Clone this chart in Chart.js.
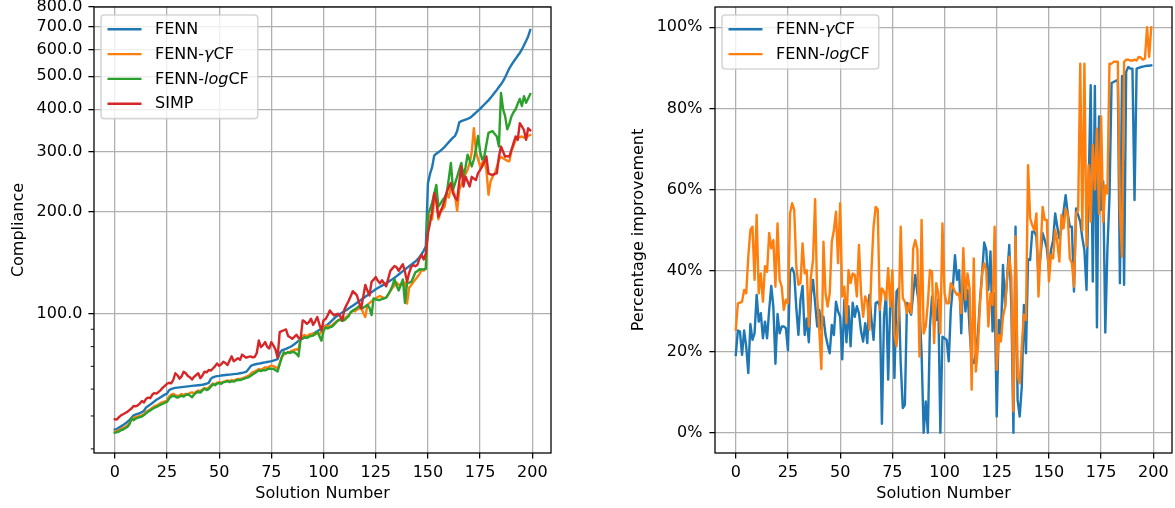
<!DOCTYPE html>
<html>
<head>
<meta charset="utf-8">
<script src="https://cdn.jsdelivr.net/npm/chart.js@4.4.1/dist/chart.umd.min.js"></script>
<style>
  html, body { margin: 0; padding: 0; background: #fff; }
  #page { position: relative; width: 1175px; height: 508px; overflow: hidden; }
  .box { position: absolute; top: 0; height: 508px; }
  #left { left: 0; width: 560px; }
  #right { left: 620px; width: 555px; }
</style>
</head>
<body>
<div id="page">
  <div class="box" id="left"><canvas id="compChart"></canvas></div>
  <div class="box" id="right"><canvas id="imprChart"></canvas></div>
</div>
<script>
// x: solution number 0..199
const solutionNumbers = Array.from({ length: 200 }, (_, i) => i);
const xTicks = [0, 25, 50, 75, 100, 125, 150, 175, 200];
const complianceTicks = [40, 50, 60, 70, 80, 90, 100, 200, 300, 400, 500, 600, 700, 800];
const percentTicks = [0, 20, 40, 60, 80, 100];

// left plot: compliance (log axis)
const fenn = [
  45.6, 45.8, 46.2, 46.6, 47.0, 47.5, 48.0, 48.6, 49.4, 50.2,
  50.5, 50.7, 51.0, 51.3, 51.8, 53.0, 53.5, 54.0, 54.6, 55.2,
  55.8, 56.3, 56.8, 57.3, 57.8, 58.2, 59.5, 60.0, 60.3, 60.5,
  60.6, 60.7, 60.8, 60.9, 61.0, 61.1, 61.2, 61.3, 61.4, 61.5,
  61.6, 61.7, 61.8, 62.0, 62.3, 62.6, 64.3, 65.0, 65.3, 65.5,
  65.6, 65.8, 65.9, 66.0, 66.1, 66.2, 66.3, 66.4, 66.5, 66.6,
  66.8, 67.0, 67.2, 67.5, 68.6, 70.0, 70.6, 70.9, 71.1, 71.3,
  71.5, 71.7, 71.9, 72.1, 72.3, 72.5, 72.8, 73.1, 73.5, 76.5,
  78.0, 78.4, 78.8, 79.3, 79.8, 80.5, 81.3, 82.2, 83.2, 84.0,
  84.6, 85.2, 85.7, 86.2, 86.6, 87.2, 88.0, 88.8, 89.6, 90.4,
  91.2, 92.0, 93.0, 94.2, 95.5, 96.8, 98.0, 99.0, 100.0, 100.9,
  101.8, 102.6, 103.6, 104.6, 105.6, 106.6, 107.7, 108.8, 109.9, 111.0,
  112.2, 113.4, 114.6, 115.7, 116.8, 118.0, 119.0, 120.0, 121.0, 122.0,
  123.0, 124.1, 125.2, 126.3, 127.6, 129.0, 130.5, 132.0, 133.5, 135.0,
  136.5, 138.0, 139.5, 141.0, 142.5, 144.5, 147.0, 150.0, 153.5, 158.0,
  242, 258, 270, 292, 296, 299, 302, 306, 310, 315,
  320, 325, 330, 334, 345, 366, 369, 371, 373, 375,
  377, 381, 386, 391, 396, 401, 407, 413, 419, 425,
  432, 440, 448, 456, 465, 474, 484, 497, 512, 528,
  540, 552, 563, 575, 586, 600, 617, 635, 655, 684
];
const fennGammaCF = [
  44.9, 45.1, 45.4, 45.8, 46.0, 46.4, 46.9, 47.6, 48.6, 49.4,
  49.6, 49.8, 50.1, 50.2, 50.6, 51.4, 51.9, 52.3, 52.9, 53.4,
  53.7, 54.1, 54.6, 54.9, 55.2, 55.4, 57.0, 57.8, 58.1, 57.6,
  57.3, 57.5, 58.0, 57.6, 58.1, 57.7, 58.5, 58.7, 58.3, 59.0,
  59.4, 59.2, 59.8, 60.4, 60.1, 60.6, 61.5, 62.3, 62.0, 62.6,
  62.9, 62.7, 63.0, 63.3, 63.6, 63.3, 63.8, 63.5, 64.0, 64.3,
  64.3, 64.5, 64.9, 65.3, 65.6, 66.4, 67.3, 67.6, 68.1, 68.8,
  68.4, 68.9, 69.6, 69.3, 69.9, 70.4, 70.0, 69.6, 69.0, 71.4,
  74.5, 75.8, 76.6, 77.0, 77.4, 77.9, 78.3, 78.6, 78.2, 84.5,
  86.0, 86.6, 85.5, 86.8, 87.2, 87.5, 86.8, 88.0, 87.0, 88.5,
  90.0, 92.4, 91.6, 92.0, 92.4, 93.6, 94.8, 95.5, 96.6, 95.8,
  97.0, 97.8, 99.0, 100.5, 102.3, 101.6, 102.8, 103.5, 104.6, 100.5,
  97.8, 105.9, 107.5, 108.6, 110.5, 111.0, 112.0, 112.8, 112.0, 111.2,
  111.6, 114.0, 116.5, 119.2, 121.0, 123.6, 121.5, 122.3, 121.8, 123.6,
  107.1, 119.2, 121.5, 124.0, 126.2, 128.5, 131.0, 134.7, 134.0, 136.0,
  189, 195, 189.6, 215, 226.5, 189.6, 198.6, 203, 206.6, 226.5,
  220, 237, 231.6, 221.8, 200.9, 231.6, 240, 247.6, 258, 265.5,
  278, 300, 352, 300, 284.5, 271.5, 278, 284.5, 265.5, 224,
  245, 253.4, 259, 270, 284.5, 290, 287, 284.5, 282, 281,
  301, 312, 325, 329, 331, 332.5, 330, 329, 334, 336
];
const fennLogCF = [
  44.6, 44.8, 45.0, 45.4, 45.6, 46.0, 46.4, 47.2, 49.3, 48.6,
  49.1, 49.4, 49.6, 49.8, 50.3, 50.9, 51.5, 51.9, 52.4, 52.9,
  53.1, 53.6, 54.0, 54.3, 54.7, 55.0, 56.2, 57.0, 57.4, 57.0,
  56.6, 57.0, 57.4, 57.0, 57.6, 58.0, 57.4, 56.8, 57.8, 58.6,
  59.0, 58.6, 59.5, 60.1, 59.6, 60.0, 61.0, 62.0, 61.6, 62.3,
  62.5, 62.2, 62.8, 63.0, 63.3, 62.9, 63.3, 63.1, 63.6, 63.8,
  63.8, 64.1, 64.4, 64.7, 65.0, 65.6, 66.2, 66.8, 67.5, 68.1,
  67.8, 68.2, 68.1, 68.6, 69.0, 68.8, 68.8, 68.2, 67.6, 71.0,
  74.5, 77.0, 76.4, 77.0, 76.6, 77.2, 77.0, 76.2, 74.9, 84.0,
  84.6, 85.4, 84.8, 85.6, 86.0, 86.2, 87.4, 88.5, 86.0, 83.3,
  89.0, 91.2, 90.5, 91.2, 91.6, 92.8, 94.2, 95.7, 96.0, 95.2,
  95.7, 97.0, 98.4, 101.1, 102.0, 103.1, 104.0, 105.2, 104.5, 104.1,
  105.0, 106.2, 104.0, 99.1, 110.9, 110.2, 109.8, 109.8, 110.5, 110.9,
  111.5, 114.0, 117.1, 121.0, 126.2, 121.0, 117.1, 121.5, 126.2, 107.6,
  122.9, 123.5, 124.1, 128.0, 132.4, 133.5, 135.2, 135.0, 135.2, 135.5,
  196, 203, 212, 225, 239.5, 206.6, 211, 216, 220, 226.5,
  250, 278, 231.6, 242, 253.4, 265, 278, 253.4, 270, 294,
  283, 271.5, 284.5, 305, 334, 300, 284.5, 290.4, 315, 340.8,
  343, 344.8, 338, 332.5, 310.6, 447, 400, 381, 349, 362,
  381, 392, 400, 415, 429, 409, 437, 418, 430, 443
];
const simp = [
  48.9, 48.8, 49.6, 50.2, 50.6, 51.0, 51.4, 52.0, 52.6, 53.5,
  53.4, 53.7, 54.4, 55.3, 54.8, 56.2, 56.6, 56.4, 57.8, 58.4,
  58.2, 58.9, 59.6, 60.6, 61.3, 62.2, 62.6, 62.4, 63.8, 66.8,
  65.9, 64.4, 65.4, 67.5, 66.8, 65.6, 65.0, 64.0, 65.2, 66.0,
  66.8, 64.6, 65.8, 67.5, 67.2, 68.3, 68.0, 69.0, 70.0, 71.4,
  70.2, 71.0, 72.2, 71.6, 70.6, 72.8, 74.9, 72.4, 73.2, 74.0,
  73.2, 75.8, 74.9, 74.2, 74.6, 74.9, 74.4, 74.6, 76.5, 83.4,
  79.8, 80.8, 82.5, 80.0, 79.0, 82.5, 80.6, 78.4, 74.2, 88.3,
  88.9, 89.4, 89.9, 86.0, 85.2, 84.4, 85.5, 86.7, 85.0, 84.2,
  95.6, 94.8, 93.4, 94.5, 96.7, 92.7, 95.0, 97.8, 93.0, 89.3,
  95.6, 96.5, 99.0, 102.3, 100.5, 98.9, 99.6, 100.0, 98.4, 95.6,
  103.0, 106.0, 109.0, 112.5, 116.5, 115.0, 113.1, 108.0, 103.5, 112.0,
  121.6, 117.0, 113.1, 124.1, 126.0, 128.3, 125.0, 122.9, 125.5, 123.0,
  120.4, 127.0, 133.7, 136.0, 138.3, 137.0, 133.7, 137.0, 139.9, 133.0,
  124.1, 132.0, 137.5, 139.0, 138.0, 139.5, 145.7, 148.8, 144.5, 150.5,
  172.6, 185, 200, 226.5, 214, 193, 200, 206.6, 216, 228,
  236, 242.5, 226.5, 220, 216, 245, 271.5, 237, 253.4, 245,
  237, 253, 250, 247.6, 259.4, 265, 271.5, 280, 290.4, 259,
  257, 256.5, 258, 259, 290, 310.6, 300, 290, 291, 290,
  304, 318, 332.5, 325, 364, 356, 347.5, 325, 351.6, 347
];

// right plot: percentage improvement
const imprGammaCF = [
  19.2, 25.2, 25.0, 19.2, 25.2, 21.3, 14.7, 26.8, 22.9, 24.5,
  34.0, 27.4, 29.5, 23.3, 27.4, 23.3, 30.3, 36.2, 31.1, 17.0,
  29.3, 24.5, 26.2, 26.2, 25.8, 20.3, 39.7, 40.6, 39.3, 30.7,
  24.1, 32.8, 36.2, 24.1, 28.2, 22.3, 34.0, 37.7, 32.0, 26.2,
  30.3, 25.4, 28.6, 24.1, 21.7, 19.6, 26.6, 24.1, 32.3, 29.9,
  28.6, 18.1, 32.8, 22.3, 31.2, 21.3, 32.1, 28.6, 31.2, 29.5,
  25.0, 22.5, 27.0, 22.1, 34.0, 27.8, 22.9, 32.0, 32.3, 31.2,
  2.2, 28.6, 34.4, 13.1, 32.0, 35.2, 13.5, 34.8, 35.6, 17.2,
  6.1, 6.9, 32.0, 30.3, 29.1, 34.4, 38.9, 34.4, 31.2, 19.6,
  0.0, 7.7, 0.0, 26.2, 33.6, 29.5, 27.8, 32.8, 0.0, 23.7,
  23.3, 22.9, 17.6, 30.3, 36.0, 43.8, 37.7, 40.1, 24.5, 40.1,
  29.9, 35.2, 25.4, 18.0, 17.2, 19.6, 24.5, 32.8, 39.3, 46.9,
  45.1, 35.2, 44.7, 25.0, 34.4, 4.0, 27.8, 23.7, 41.4, 31.1,
  38.5, 46.3, 31.1, 0.0, 50.8, 8.1, 4.0, 11.4, 31.5, 19.6,
  42.8, 42.6, 49.6, 49.6, 48.4, 38.5, 43.8, 49.2, 47.5, 45.5,
  40.1, 45.1, 47.5, 54.1, 50.8, 47.9, 50.4, 54.5, 58.6, 54.1,
  50.8, 50.8, 34.8, 55.3, 53.7, 52.0, 48.0, 45.0, 35.2, 60.0,
  85.7, 37.3, 85.5, 26.0, 78.0, 55.0, 62.0, 24.7, 45.0, 58.0,
  86.3, 86.5, 86.8, 87.0, 36.9, 88.0, 36.5, 89.0, 90.2, 89.8,
  89.8, 57.4, 89.8, 90.0, 90.2, 90.3, 90.4, 90.5, 90.5, 90.6
];
const imprLogCF = [
  25.4, 31.9, 32.1, 32.3, 35.2, 34.4, 43.4, 50.0, 50.8, 37.7,
  53.7, 34.4, 39.3, 32.3, 41.1, 39.7, 49.3, 45.5, 47.5, 36.0,
  51.6, 37.7, 36.0, 30.3, 32.8, 31.9, 54.1, 56.6, 54.9, 41.0,
  36.5, 36.9, 46.7, 39.3, 40.1, 26.2, 38.5, 42.6, 57.6, 33.6,
  25.4, 15.7, 47.1, 34.4, 31.1, 34.4, 47.1, 50.0, 54.5, 41.8,
  56.6, 33.6, 36.0, 27.0, 40.1, 36.9, 39.3, 38.9, 33.6, 46.3,
  34.4, 28.6, 33.6, 32.3, 25.4, 40.1, 50.8, 55.7, 55.1, 30.3,
  35.6, 34.8, 32.8, 40.6, 31.1, 40.1, 24.1, 21.3, 28.6, 50.8,
  33.2, 32.3, 29.5, 31.9, 29.5, 45.5, 47.5, 45.1, 18.8, 52.5,
  24.5, 26.2, 31.9, 40.1, 39.7, 22.1, 36.9, 34.4, 24.5, 51.6,
  34.4, 31.9, 31.9, 36.9, 36.0, 34.8, 34.0, 34.4, 29.5, 45.5,
  32.8, 39.3, 35.6, 10.6, 43.0, 15.1, 21.3, 31.9, 39.3, 41.8,
  40.1, 26.2, 34.4, 31.5, 50.8, 15.5, 24.1, 22.5, 28.6, 31.1,
  38.5, 43.4, 38.5, 5.3, 48.4, 13.9, 12.2, 21.3, 29.1, 27.8,
  66.0, 52.9, 51.2, 50.0, 54.1, 33.6, 45.1, 55.7, 52.5, 52.5,
  37.3, 43.8, 43.0, 50.0, 47.1, 42.2, 53.7, 50.4, 55.3, 53.7,
  43.0, 41.8, 36.0, 54.1, 54.9, 91.0, 50.0, 91.0, 46.0, 66.0,
  52.0, 71.0, 60.0, 75.0, 54.0, 78.0, 52.0, 61.0, 59.0, 91.0,
  91.0, 91.5, 91.5, 91.5, 55.0, 43.4, 91.5, 92.0, 92.0, 91.8,
  91.8, 92.0, 91.8, 92.7, 92.5, 92.0, 92.3, 100.0, 92.7, 100.0
];

const FONT = "'DejaVu Sans', sans-serif";
Chart.defaults.font.family = FONT;
Chart.defaults.font.size = 16;
Chart.defaults.color = '#000';
Chart.defaults.animation = false;

const GRID = '#b0b0b0';
const NONE = 'rgba(0,0,0,0)';
const BLUE = '#1f77b4', ORANGE = '#ff7f0e', GREEN = '#2ca02c', RED = '#d62728';

// black box round the plot area, drawn over the lines like matplotlib spines
const frame = {
  id: 'frame',
  afterDatasetsDraw(chart) {
    const { ctx, chartArea: a } = chart;
    ctx.save();
    ctx.strokeStyle = '#000';
    ctx.lineWidth = 1.28;
    ctx.strokeRect(a.left, a.top, a.right - a.left, a.bottom - a.top);
    ctx.restore();
  }
};

// short unlabeled ticks below 100 on the log axis
const minorTicks = {
  id: 'minorTicks',
  afterDraw(chart) {
    const { ctx, chartArea: a } = chart;
    const y = chart.scales.y;
    ctx.save();
    ctx.strokeStyle = '#000';
    ctx.lineWidth = 0.96;
    complianceTicks.filter(v => v < 100).forEach(v => {
      const py = y.getPixelForValue(v);
      ctx.beginPath();
      ctx.moveTo(a.left - 3.2, py);
      ctx.lineTo(a.left, py);
      ctx.stroke();
    });
    ctx.restore();
  }
};

// text with $...$ parts set in italic
function richText(ctx, text, x, y, draw) {
  let cx = x;
  text.split('$').forEach((p, k) => {
    if (!p) return;
    ctx.font = (k % 2 ? 'italic ' : '') + '16px ' + FONT;
    if (draw) ctx.fillText(p, cx, y);
    cx += ctx.measureText(p).width;
  });
  return cx - x;
}

const boxLegend = {
  id: 'boxLegend',
  afterDraw(chart, args, opts) {
    const { ctx, chartArea } = chart;
    const sets = chart.data.datasets;
    const x0 = chartArea.left + opts.dx;
    const y0 = chartArea.top + opts.dy;
    ctx.save();
    const tw = Math.max(...sets.map(ds => richText(ctx, ds.label, 0, 0, false)));
    const w = 54 + tw + 9;
    const h = 14.3 + (sets.length - 1) * 24.8 + 14.9;
    const r = 3.2;
    ctx.beginPath();
    ctx.moveTo(x0 + r, y0);
    ctx.arcTo(x0 + w, y0, x0 + w, y0 + h, r);
    ctx.arcTo(x0 + w, y0 + h, x0, y0 + h, r);
    ctx.arcTo(x0, y0 + h, x0, y0, r);
    ctx.arcTo(x0, y0, x0 + w, y0, r);
    ctx.closePath();
    ctx.fillStyle = 'rgba(255,255,255,0.8)';
    ctx.fill();
    ctx.strokeStyle = 'rgba(204,204,204,0.8)';
    ctx.lineWidth = 1.6;
    ctx.stroke();
    sets.forEach((ds, k) => {
      const y = y0 + 14.3 + k * 24.8;
      ctx.strokeStyle = ds.borderColor;
      ctx.lineWidth = 2.4;
      ctx.beginPath();
      ctx.moveTo(x0 + 6.5, y);
      ctx.lineTo(x0 + 40.5, y);
      ctx.stroke();
      ctx.fillStyle = '#000';
      ctx.textBaseline = 'middle';
      ctx.textAlign = 'left';
      richText(ctx, ds.label, x0 + 54, y + 0.5, true);
    });
    ctx.restore();
  }
};

function series(label, data, color, order) {
  return {
    label, data, order,
    borderColor: color, backgroundColor: color,
    borderWidth: 2.4, pointRadius: 0, pointHoverRadius: 0,
    tension: 0, fill: false, clip: 0,
    borderJoinStyle: 'round', borderCapStyle: 'square'
  };
}

function xAxis() {
  return {
    type: 'linear', min: -9.95, max: 208.95,
    afterBuildTicks: s => { s.ticks = xTicks.map(v => ({ value: v })); },
    afterFit: s => { s.height = 55; s.paddingLeft = 0; s.paddingRight = 0; },
    ticks: { autoSkip: false, maxRotation: 0, minRotation: 0, padding: 4.3, color: '#000' },
    grid: { color: GRID, lineWidth: 1.28, tickLength: 5.6, tickColor: '#000', tickWidth: 1.28 },
    border: { display: false },
    title: { display: true, text: 'Solution Number', color: '#000', padding: { top: 0, bottom: 4.1 } }
  };
}

new Chart(document.getElementById('compChart'), {
  type: 'line',
  data: {
    labels: solutionNumbers,
    datasets: [
      series('FENN', fenn, BLUE, 3),
      series('FENN-$γ$CF', fennGammaCF, ORANGE, 2),
      series('FENN-$log$CF', fennLogCF, GREEN, 1),
      series('SIMP', simp, RED, 0)
    ]
  },
  options: {
    responsive: true,
    maintainAspectRatio: false,
    events: [],
    layout: { padding: { top: 7, right: 9, left: 0, bottom: 0 } },
    plugins: { legend: { display: false }, tooltip: { enabled: false }, boxLegend: { dx: 7, dy: 8 } },
    scales: {
      x: xAxis(),
      y: {
        type: 'logarithmic', min: 38.9, max: 800,
        afterBuildTicks: s => { s.ticks = complianceTicks.map(v => ({ value: v })); },
        afterFit: s => { s.width = 94; s.paddingTop = 0; s.paddingBottom = 0; },
        ticks: {
          autoSkip: false, padding: 6, color: '#000',
          callback: v => (v >= 100 ? v.toFixed(1) : '')
        },
        grid: {
          color: c => (c.tick && c.tick.value >= 100 ? GRID : NONE),
          tickColor: c => (c.tick && c.tick.value >= 100 ? '#000' : NONE),
          lineWidth: 1.28, tickLength: 5.6, tickWidth: 1.28
        },
        border: { display: false },
        title: { display: true, text: 'Compliance', color: '#000', padding: { top: 9, bottom: 0 } }
      }
    }
  },
  plugins: [frame, minorTicks, boxLegend]
});

new Chart(document.getElementById('imprChart'), {
  type: 'line',
  data: {
    labels: solutionNumbers,
    datasets: [
      series('FENN-$γ$CF', imprGammaCF, BLUE, 1),
      series('FENN-$log$CF', imprLogCF, ORANGE, 0)
    ]
  },
  options: {
    responsive: true,
    maintainAspectRatio: false,
    events: [],
    layout: { padding: { top: 7, right: 3, left: 0, bottom: 0 } },
    plugins: { legend: { display: false }, tooltip: { enabled: false }, boxLegend: { dx: 7, dy: 8 } },
    scales: {
      x: xAxis(),
      y: {
        type: 'linear', min: -5, max: 105,
        afterBuildTicks: s => { s.ticks = percentTicks.map(v => ({ value: v })); },
        afterFit: s => { s.width = 95; s.paddingTop = 0; s.paddingBottom = 0; },
        ticks: { autoSkip: false, padding: 7, color: '#000', callback: v => v + '%' },
        grid: { color: GRID, lineWidth: 1.28, tickLength: 5.6, tickColor: '#000', tickWidth: 1.28 },
        border: { display: false },
        title: { display: true, text: 'Percentage improvement', color: '#000', padding: { top: 9, bottom: 0 } }
      }
    }
  },
  plugins: [frame, boxLegend]
});
</script>
</body>
</html>
